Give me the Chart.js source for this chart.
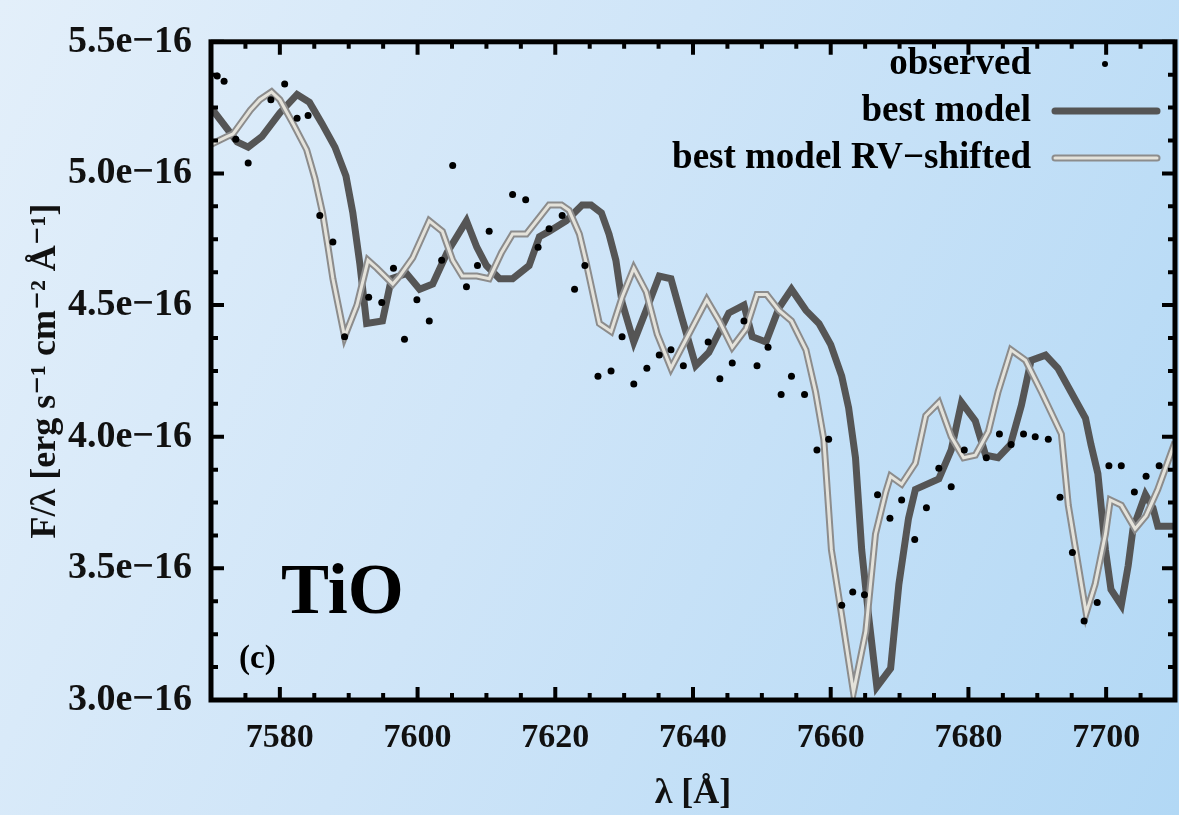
<!DOCTYPE html>
<html>
<head>
<meta charset="utf-8">
<script src="https://cdn.jsdelivr.net/npm/chart.js@4"></script>
<style>
  html, body { margin: 0; padding: 0; overflow: hidden; }
  body {
    width: 1179px; height: 815px;
    background: linear-gradient(115deg, #e3effa 0%, #cfe5f8 45%, #b2d8f5 100%);
  }
  canvas { display: block; }
</style>
</head>
<body>
<canvas id="spec" width="1179" height="815"></canvas>
<script>
// wavelength in Angstrom, flux in units of 1e-16 erg/s/cm2/A
const obsWave = [7570.9,7571.9,7573.6,7575.4,7578.7,7580.7,7582.5,7584.1,7585.8,7587.7,7589.4,7592.9,7594.8,7596.5,7598.1,7599.9,7601.7,7603.5,7605.1,7607.1,7608.7,7610.4,7613.8,7615.7,7617.5,7619.1,7621.0,7622.8,7624.3,7626.2,7628.1,7629.7,7631.4,7633.3,7635.1,7636.8,7638.6,7642.2,7643.9,7645.7,7647.4,7649.3,7650.9,7652.8,7654.3,7656.2,7658.0,7659.7,7661.6,7663.2,7664.9,7666.8,7668.6,7670.3,7672.2,7673.9,7675.7,7677.5,7679.4,7682.6,7684.5,7686.2,7688.0,7689.7,7691.6,7693.3,7695.1,7696.8,7698.7,7700.4,7702.2,7704.1,7705.8,7707.7];
const obsFlux = [5.37,5.35,5.13,5.04,5.28,5.34,5.21,5.22,4.84,4.74,4.38,4.53,4.51,4.64,4.37,4.52,4.44,4.67,5.03,4.57,4.65,4.78,4.92,4.90,4.72,4.79,4.84,4.56,4.65,4.23,4.25,4.38,4.20,4.26,4.31,4.33,4.27,4.36,4.22,4.28,4.44,4.27,4.34,4.16,4.23,4.16,3.95,3.99,3.36,3.41,3.40,3.78,3.69,3.76,3.61,3.73,3.88,3.81,3.95,3.92,4.01,3.97,4.01,4.00,3.99,3.77,3.56,3.30,3.37,3.89,3.89,3.79,3.85,3.89];

const modelWave = [7570.0,7573.8,7575.4,7577.4,7580.0,7582.5,7584.3,7586.1,7588.0,7589.6,7590.6,7591.6,7592.6,7594.9,7596.2,7598.4,7600.3,7602.2,7604.3,7607.1,7608.6,7610.0,7611.9,7613.8,7616.2,7617.7,7619.1,7621.6,7623.9,7625.2,7626.7,7627.8,7628.8,7629.7,7631.4,7633.2,7635.1,7636.8,7638.4,7640.4,7642.3,7645.2,7647.4,7648.6,7650.6,7652.5,7654.3,7656.4,7658.3,7660.0,7661.6,7662.6,7663.6,7664.5,7665.5,7666.7,7668.7,7669.9,7671.3,7672.3,7675.7,7677.5,7679.0,7681.0,7682.5,7684.3,7686.1,7687.7,7689.1,7691.2,7693.0,7694.9,7697.0,7697.8,7698.8,7699.9,7700.7,7702.2,7703.2,7703.9,7705.7,7706.8,7707.5,7710.0];
const modelFlux = [5.25,5.12,5.10,5.14,5.23,5.30,5.27,5.19,5.10,4.99,4.85,4.66,4.43,4.44,4.60,4.62,4.56,4.58,4.70,4.82,4.72,4.65,4.60,4.60,4.65,4.76,4.78,4.82,4.88,4.88,4.85,4.77,4.67,4.51,4.36,4.48,4.61,4.60,4.45,4.27,4.32,4.47,4.50,4.38,4.36,4.49,4.56,4.48,4.43,4.35,4.23,4.11,3.92,3.57,3.32,3.05,3.12,3.44,3.69,3.80,3.84,3.95,4.13,4.06,3.93,3.92,3.97,4.12,4.29,4.31,4.26,4.17,4.07,3.97,3.86,3.57,3.42,3.36,3.51,3.65,3.78,3.73,3.66,3.66];

const shiftWave = [7570.0,7572.3,7573.2,7575.7,7577.1,7578.8,7580.0,7581.9,7583.9,7585.1,7586.2,7587.0,7587.7,7589.4,7591.2,7592.8,7594.1,7596.4,7597.4,7599.3,7601.7,7603.6,7605.1,7606.5,7608.6,7610.4,7612.2,7613.8,7615.8,7619.1,7620.9,7622.0,7623.5,7624.5,7626.4,7628.1,7629.7,7631.4,7633.2,7634.8,7636.8,7639.0,7642.0,7643.8,7645.7,7647.7,7649.3,7650.7,7652.5,7654.3,7656.4,7657.8,7659.0,7660.1,7661.6,7663.3,7665.1,7666.5,7668.0,7668.7,7670.3,7672.3,7673.8,7675.7,7677.5,7679.3,7681.0,7682.9,7684.3,7686.2,7688.3,7690.6,7693.5,7694.5,7696.4,7697.1,7698.4,7699.9,7700.6,7702.2,7704.2,7705.8,7707.5,7710.0];
const shiftFlux = [5.11,5.14,5.15,5.24,5.28,5.31,5.28,5.19,5.09,4.98,4.85,4.72,4.60,4.38,4.50,4.67,4.64,4.58,4.61,4.68,4.82,4.78,4.67,4.61,4.61,4.60,4.70,4.77,4.77,4.88,4.88,4.86,4.77,4.66,4.43,4.40,4.53,4.64,4.55,4.39,4.26,4.37,4.52,4.44,4.34,4.41,4.54,4.54,4.48,4.44,4.33,4.17,3.99,3.57,3.32,3.03,3.26,3.63,3.79,3.85,3.82,3.90,4.08,4.13,4.00,3.92,3.93,4.02,4.17,4.33,4.29,4.17,4.01,3.74,3.44,3.33,3.44,3.63,3.76,3.74,3.65,3.70,3.80,3.98];

const xTicks = [7580, 7600, 7620, 7640, 7660, 7680, 7700];
const yTicks = [3.0, 3.5, 4.0, 4.5, 5.0, 5.5];
const seriesNames = ["observed", "best model", "best model RV\u2212shifted"];

const SERIF = "'Liberation Serif', 'DejaVu Serif', serif";
const pts = (xs, ys) => xs.map((x, i) => ({ x: x, y: ys[i] }));

// frame with inward major/minor ticks on all four sides
const framePlugin = {
  id: "frame",
  afterDatasetsDraw(chart) {
    const { ctx, chartArea: a, scales: { x, y } } = chart;
    ctx.save();
    ctx.strokeStyle = "#000";
    ctx.lineCap = "butt";
    ctx.lineWidth = 4;
    for (let v = 7570; v <= 7710; v += 5) {
      const px = x.getPixelForValue(v);
      const len = v % 20 === 0 ? 13 : 7;
      ctx.beginPath();
      ctx.moveTo(px, a.bottom); ctx.lineTo(px, a.bottom - len);
      ctx.moveTo(px, a.top); ctx.lineTo(px, a.top + len);
      ctx.stroke();
    }
    for (let k = 0; k <= 20; k++) {
      const v = 3 + k * 0.125;
      const py = y.getPixelForValue(v);
      const len = k % 4 === 0 ? 13 : 7;
      ctx.beginPath();
      ctx.moveTo(a.left, py); ctx.lineTo(a.left + len, py);
      ctx.moveTo(a.right, py); ctx.lineTo(a.right - len, py);
      ctx.stroke();
    }
    ctx.lineWidth = 5;
    ctx.strokeRect(a.left, a.top, a.right - a.left, a.bottom - a.top);
    ctx.restore();
  },
  afterDraw(chart) {
    const { ctx } = chart;
    const ds = chart.data.datasets;
    ctx.save();
    ctx.fillStyle = "#000";
    ctx.textAlign = "right";
    ctx.textBaseline = "middle";
    ctx.font = "bold 37px " + SERIF;
    const rows = [64, 111, 158];
    ctx.fillText(ds[0].label, 1031, rows[0]);
    ctx.fillText(ds[1].label, 1031, rows[1]);
    ctx.fillText(ds[2].label, 1031, rows[2]);
    // samples
    ctx.beginPath();
    ctx.arc(1105, rows[0], 3, 0, Math.PI * 2);
    ctx.fill();
    ctx.lineCap = "round";
    ctx.strokeStyle = ds[1].borderColor; ctx.lineWidth = ds[1].borderWidth;
    ctx.beginPath(); ctx.moveTo(1055, rows[1]); ctx.lineTo(1157, rows[1]); ctx.stroke();
    ctx.strokeStyle = ds[2].borderColor; ctx.lineWidth = ds[2].borderWidth;
    ctx.beginPath(); ctx.moveTo(1055, rows[2]); ctx.lineTo(1157, rows[2]); ctx.stroke();
    ctx.strokeStyle = ds[3].borderColor; ctx.lineWidth = ds[3].borderWidth;
    ctx.beginPath(); ctx.moveTo(1055, rows[2]); ctx.lineTo(1157, rows[2]); ctx.stroke();
    // panel labels
    ctx.textAlign = "left";
    ctx.textBaseline = "alphabetic";
    ctx.font = "bold 72px " + SERIF;
    ctx.fillText("TiO", 281, 613);
    ctx.font = "bold 33px " + SERIF;
    ctx.fillText("(c)", 239, 668);
    ctx.restore();
  }
};

new Chart(document.getElementById("spec"), {
  type: "scatter",
  data: {
    datasets: [
      { label: seriesNames[0], data: pts(obsWave, obsFlux), showLine: false,
        pointRadius: 3.5, pointBackgroundColor: "#000", pointBorderWidth: 0, order: 0 },
      { label: seriesNames[1], data: pts(modelWave, modelFlux), showLine: true,
        borderColor: "#555555", borderWidth: 7, pointRadius: 0, clip: 0, order: 3 },
      { label: seriesNames[2], data: pts(shiftWave, shiftFlux), showLine: true,
        borderColor: "#8c8c8c", borderWidth: 7, pointRadius: 0, clip: 0, order: 2 },
      { label: seriesNames[2], data: pts(shiftWave, shiftFlux), showLine: true,
        borderColor: "#e4e2da", borderWidth: 3, pointRadius: 0, clip: 0, order: 1 }
    ]
  },
  options: {
    responsive: false,
    animation: false,
    devicePixelRatio: 1,
    layout: { padding: { top: 23, right: 4, left: 0, bottom: 0 } },
    plugins: { legend: { display: false }, tooltip: { enabled: false } },
    elements: { line: { tension: 0, borderJoinStyle: "miter" } },
    scales: {
      x: {
        type: "linear", min: 7570, max: 7710,
        afterFit: s => { s.height = 115; },
        afterBuildTicks: s => { s.ticks = xTicks.map(v => ({ value: v })); },
        grid: { display: false, drawTicks: false },
        border: { display: false },
        ticks: { padding: 18, color: "#111", callback: v => String(v),
                 font: { family: SERIF, weight: "bold", size: 34 } },
        title: { display: true, text: "\u03bb [\u00c5]", color: "#111",
                 padding: { top: 0, bottom: 0 },
                 font: { family: SERIF, weight: "bold", size: 36 } }
      },
      y: {
        type: "linear", min: 3.0, max: 5.5,
        afterFit: s => { s.width = 211; },
        afterBuildTicks: s => { s.ticks = yTicks.map(v => ({ value: v })); },
        grid: { display: false, drawTicks: false },
        border: { display: false },
        ticks: { padding: 19, color: "#111", callback: v => v.toFixed(1) + "e\u221216",
                 font: { family: SERIF, weight: "bold", size: 38 } },
        title: { display: true, text: "F/\u03bb [erg s\u207b\u00b9 cm\u207b\u00b2 \u00c5\u207b\u00b9]", color: "#111",
                 padding: { top: 24, bottom: 0 },
                 font: { family: SERIF, weight: "bold", size: 36 } }
      }
    }
  },
  plugins: [framePlugin]
});
</script>
</body>
</html>
